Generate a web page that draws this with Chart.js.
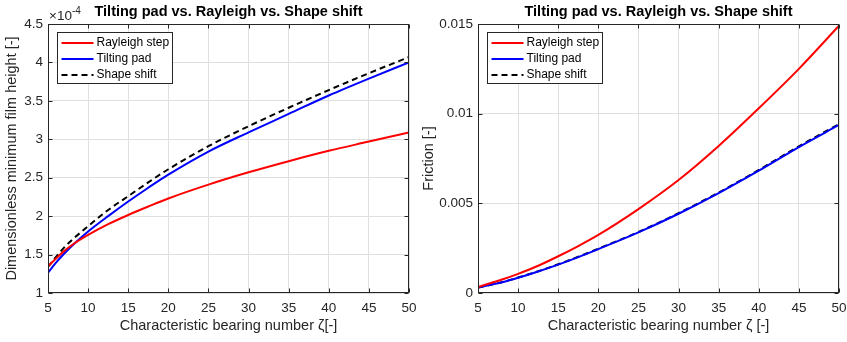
<!DOCTYPE html>
<html>
<head>
<meta charset="utf-8">
<script src="https://cdn.jsdelivr.net/npm/chart.js@4/dist/chart.umd.min.js"></script>
<style>
  html, body { margin: 0; padding: 0; background: #fff; }
  #wrap { position: relative; width: 847px; height: 342px; overflow: hidden; background: #fff; }
  canvas { position: absolute; top: 0; }
  #cH { left: 0; }
  #cF { left: 420px; }
</style>
</head>
<body>
<div id="wrap">
  <canvas id="cH" width="420" height="342"></canvas>
  <canvas id="cF" width="427" height="342"></canvas>
</div>
<script>
// Characteristic bearing number (zeta) sample points
const zeta = [5, 6, 7, 8, 10, 12.5, 15, 17.5, 20, 25, 30, 35, 40, 45, 50];

// Dimensionless minimum film height, in units of 1e-4
const heightExponent = -4;
const hRayleigh = [1.345, 1.45, 1.545, 1.625, 1.755, 1.895, 2.015, 2.125, 2.23, 2.41, 2.57, 2.715, 2.85, 2.97, 3.09];
const hTilting  = [1.265, 1.395, 1.51, 1.615, 1.80, 2.00, 2.19, 2.37, 2.54, 2.84, 3.09, 3.33, 3.57, 3.79, 4.00];
const hShape    = [1.34, 1.47, 1.59, 1.69, 1.87, 2.08, 2.26, 2.44, 2.61, 2.91, 3.17, 3.41, 3.64, 3.86, 4.07];

// Friction coefficient
const fRayleigh = [0.00033, 0.00047, 0.00061, 0.00075, 0.00107, 0.00152, 0.00205, 0.00262, 0.00324, 0.00468, 0.0063, 0.0082, 0.0103, 0.0125, 0.0149];
const fTilting  = [0.0003, 0.0004, 0.0005, 0.0006, 0.00085, 0.0012, 0.00158, 0.002, 0.00245, 0.00338, 0.00442, 0.00557, 0.00682, 0.00814, 0.00937];
const fShape    = [0.0003, 0.0004, 0.0005, 0.0006, 0.00086, 0.00121, 0.0016, 0.00202, 0.00247, 0.0034, 0.00445, 0.0056, 0.00686, 0.00818, 0.00942];

// Axis tick labels
const xTicks = [5, 10, 15, 20, 25, 30, 35, 40, 45, 50];
const hTicks = [1, 1.5, 2, 2.5, 3, 3.5, 4, 4.5];
const fTicks = [0, 0.005, 0.01, 0.015];
const fTickLabels = ['0', '0.005', '0.01', '0.015'];

const titleText = 'Tilting pad vs. Rayleigh vs. Shape shift';
const seriesNames = ['Rayleigh step', 'Tilting pad', 'Shape shift'];

const FONT = "'Liberation Sans', Arial, Helvetica, sans-serif";
const AX = '#262626';
const GRID = '#dfdfdf';

function points(xs, ys) { return xs.map((x, i) => ({ x: x, y: ys[i] })); }

function series(ys1, ys2, ys3) {
  return [
    { label: seriesNames[0], data: points(zeta, ys1), borderColor: '#ff0000', borderWidth: 2 },
    { label: seriesNames[1], data: points(zeta, ys2), borderColor: '#0000ff', borderWidth: 2 },
    { label: seriesNames[2], data: points(zeta, ys3), borderColor: '#000000', borderWidth: 2, borderDash: [6, 4] }
  ].map(d => Object.assign(d, { pointRadius: 0, fill: false, cubicInterpolationMode: 'monotone' }));
}

// Box, inward tick marks, inset legend and exponent label in MATLAB style
const boxedAxes = {
  id: 'boxedAxes',
  afterDatasetsDraw(chart, args, opts) {
    const ctx = chart.ctx;
    const a = chart.chartArea;
    const xs = chart.scales.x, ys = chart.scales.y;
    const L = Math.round(a.left) + 0.5, R = Math.round(a.right) - 0.5;
    const T = Math.round(a.top) + 0.5, B = Math.round(a.bottom) - 0.5;
    const tl = 4;
    ctx.save();
    ctx.strokeStyle = AX;
    ctx.lineWidth = 1;
    ctx.beginPath();
    xs.ticks.forEach(t => {
      const px = Math.round(xs.getPixelForValue(t.value)) + 0.5;
      ctx.moveTo(px, B); ctx.lineTo(px, B - tl);
      ctx.moveTo(px, T); ctx.lineTo(px, T + tl);
    });
    ys.ticks.forEach(t => {
      const py = Math.round(ys.getPixelForValue(t.value)) + 0.5;
      ctx.moveTo(L, py); ctx.lineTo(L + tl, py);
      ctx.moveTo(R, py); ctx.lineTo(R - tl, py);
    });
    ctx.stroke();
    ctx.strokeRect(L, T, R - L, B - T);

    // legend
    const bx = Math.round(a.left) + 9.5, by = Math.round(a.top) + 8.5;
    const bw = 115, bh = 51;
    ctx.fillStyle = '#ffffff';
    ctx.fillRect(bx, by, bw, bh);
    ctx.strokeStyle = AX;
    ctx.strokeRect(bx, by, bw, bh);
    ctx.font = '12px ' + FONT;
    ctx.textBaseline = 'middle';
    ctx.textAlign = 'left';
    chart.data.datasets.forEach((d, i) => {
      const y = by + 10.5 + i * 16;
      ctx.strokeStyle = d.borderColor;
      ctx.lineWidth = 2;
      ctx.setLineDash(d.borderDash || []);
      ctx.beginPath();
      ctx.moveTo(bx + 4, Math.round(y));
      ctx.lineTo(bx + 36, Math.round(y));
      ctx.stroke();
      ctx.setLineDash([]);
      ctx.fillStyle = '#000000';
      ctx.fillText(d.label, bx + 39, y);
    });

    // exponent marker above the y axis
    if (opts && opts.exponent !== undefined) {
      ctx.fillStyle = AX;
      ctx.textBaseline = 'alphabetic';
      ctx.font = '13.5px ' + FONT;
      const base = '\u00d710';
      ctx.fillText(base, a.left + 1, 20);
      const w = ctx.measureText(base).width;
      ctx.font = '10px ' + FONT;
      ctx.fillText(String(opts.exponent), a.left + 1 + w, 14);
    }
    ctx.restore();
  }
};

function makeOptions(cfg) {
  return {
    responsive: false,
    animation: false,
    devicePixelRatio: 1,
    layout: { padding: { left: 0, right: cfg.padRight, top: 0, bottom: 0 } },
    plugins: {
      legend: { display: false },
      tooltip: { enabled: false },
      title: {
        display: true, text: titleText, fullSize: false, color: '#000000',
        font: { family: FONT, size: 14.5, weight: 'bold', lineHeight: '16px' },
        padding: { top: 4, bottom: 4 }
      },
      boxedAxes: cfg.exponent !== undefined ? { exponent: cfg.exponent } : {}
    },
    scales: {
      x: {
        type: 'linear', min: 5, max: 50,
        afterBuildTicks: s => { s.ticks = xTicks.map(v => ({ value: v })); },
        afterFit: s => { s.height = 49; s.paddingLeft = 0; s.paddingRight = 0; },
        grid: { color: GRID, drawTicks: false },
        border: { display: false },
        ticks: { color: AX, padding: 7, font: { family: FONT, size: 13.5 }, maxRotation: 0,
                 callback: v => String(v) },
        title: { display: true, text: cfg.xTitle, color: AX,
                 font: { family: FONT, size: 14.5, lineHeight: '16px' }, padding: { top: 0, bottom: 8 } }
      },
      y: {
        type: 'linear', min: cfg.yTicks[0], max: cfg.yTicks[cfg.yTicks.length - 1],
        afterBuildTicks: s => { s.ticks = cfg.yTicks.map(v => ({ value: v })); },
        afterFit: s => { s.width = cfg.yWidth; s.paddingTop = 0; s.paddingBottom = 0; },
        grid: { color: GRID, drawTicks: false },
        border: { display: false },
        ticks: { color: AX, padding: 5, font: { family: FONT, size: 13.5 },
                 callback: cfg.yLabel },
        title: { display: true, text: cfg.yTitle, color: AX,
                 font: { family: FONT, size: 14.5, lineHeight: '16px' }, padding: { top: cfg.yTitlePad, bottom: 0 } }
      }
    }
  };
}

new Chart(document.getElementById('cH'), {
  type: 'line',
  data: { datasets: series(hRayleigh, hTilting, hShape) },
  options: makeOptions({
    padRight: 11, yWidth: 48, yTitlePad: 4, exponent: heightExponent,
    yTicks: hTicks, yLabel: v => String(v),
    xTitle: 'Characteristic bearing number \u03b6[-]',
    yTitle: 'Dimensionless minimum film height [-]'
  }),
  plugins: [boxedAxes]
});

new Chart(document.getElementById('cF'), {
  type: 'line',
  data: { datasets: series(fRayleigh, fTilting, fShape) },
  options: makeOptions({
    padRight: 8, yWidth: 58, yTitlePad: 1,
    yTicks: fTicks, yLabel: v => fTickLabels[fTicks.indexOf(v)] ?? String(v),
    xTitle: 'Characteristic bearing number \u03b6 [-]',
    yTitle: 'Friction [-]'
  }),
  plugins: [boxedAxes]
});
</script>
</body>
</html>
